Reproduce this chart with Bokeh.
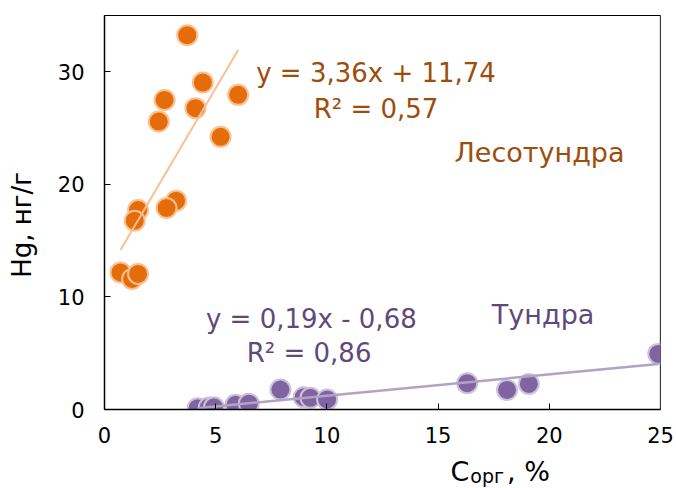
import numpy as np
from bokeh.plotting import figure
from bokeh.layouts import column
from bokeh.models import Range1d, FixedTicker, Label, Span
from bokeh.core.properties import value
from bokeh.embed import file_html
from bokeh.resources import INLINE

# Лесотундра (forest tundra)
forest_x = [3.72, 4.42, 2.70, 6.01, 4.09, 2.44, 5.22, 3.22, 2.79, 1.51, 1.36, 0.72, 1.24, 1.51]
forest_y = [33.25, 29.04, 27.5, 27.95, 26.77, 25.58, 24.22, 18.55, 17.9, 17.72, 16.77, 12.18, 11.6, 12.04]
forest_fit = [3.36, 11.74]  # slope, intercept

# Тундра (tundra)
tundra_x = [4.19, 4.69, 4.92, 5.89, 6.49, 7.91, 8.96, 9.26, 10.01, 16.31, 18.10, 19.08, 24.90]
tundra_y = [0.12, 0.18, 0.20, 0.42, 0.52, 1.77, 1.09, 1.04, 0.89, 2.34, 1.74, 2.27, 4.94]
tundra_fit = [0.19, -0.68]

x_ticks = [0, 5, 10, 15, 20, 25]
y_ticks = [0, 10, 20, 30]

FONT = "DejaVu Sans"
ORANGE_FILL = "#E46C0A"
ORANGE_EDGE = "#FAC090"
ORANGE_TEXT = "#9E4D0C"
PURPLE_FILL = "#8064A2"
PURPLE_EDGE = "#CCC1DA"
PURPLE_LINE = "#B3A2C7"
PURPLE_TEXT = "#60497A"

p = figure(width=676, height=454, output_backend="svg", toolbar_location=None,
           x_range=Range1d(0, 25), y_range=Range1d(0, 35),
           min_border_left=104, min_border_right=16, min_border_top=15, min_border_bottom=45)
p.xgrid.visible = False
p.ygrid.visible = False
p.outline_line_color = "#000000"
p.outline_line_width = 1
p.background_fill_color = "white"
p.border_fill_color = "white"

for ax in (p.xaxis[0], p.yaxis[0]):
    ax.axis_line_color = "black"
    ax.axis_line_width = 1.5
    ax.major_tick_in = 6
    ax.major_tick_out = 0
    ax.major_tick_line_color = "black"
    ax.minor_tick_line_color = None
    ax.major_label_text_font = FONT
    ax.major_label_text_font_size = "21px"
    ax.major_label_text_color = "black"
p.xaxis.ticker = FixedTicker(ticks=x_ticks)
p.yaxis.ticker = FixedTicker(ticks=y_ticks)
p.xaxis.major_label_standoff = 17
p.yaxis.major_label_standoff = 20
p.yaxis.axis_label = "Hg, нг/г\u00a0\u00a0\u00a0"
p.yaxis.axis_label_text_font = FONT
p.yaxis.axis_label_text_font_size = "26px"
p.yaxis.axis_label_text_font_style = "normal"
p.yaxis.axis_label_text_color = "black"
p.yaxis.axis_label_standoff = 18

p.add_layout(Span(location=25, dimension="height", line_color="#777777", line_width=1.5))

p.scatter(forest_x, forest_y, size=20, fill_color=ORANGE_FILL, line_color=ORANGE_EDGE, line_width=2)
p.scatter(tundra_x, tundra_y, size=20, fill_color=PURPLE_FILL, line_color=PURPLE_EDGE, line_width=2)

fx = np.array([min(forest_x), max(forest_x)])
p.line(fx, forest_fit[0] * fx + forest_fit[1], line_color=ORANGE_EDGE, line_width=2)
tx = np.array([min(tundra_x), max(tundra_x)])
p.line(tx, tundra_fit[0] * tx + tundra_fit[1], line_color=PURPLE_LINE, line_width=2.5)

def lab(x, y, text, color, size):
    p.add_layout(Label(x=x, y=y, text=text, text_font=FONT, text_font_size=size,
                       text_color=color, text_align="center", text_baseline="alphabetic"))

lab(12.21, 29.85, "y = 3,36x + 11,74", ORANGE_TEXT, "26px")
lab(12.21, 26.65, "R² = 0,57", ORANGE_TEXT, "26px")
lab(19.56, 22.80, "Лесотундра", ORANGE_TEXT, "27px")
lab(9.30, 8.05, "y = 0,19x - 0,68", PURPLE_TEXT, "26px")
lab(9.20, 5.05, "R² = 0,86", PURPLE_TEXT, "26px")
lab(19.72, 8.45, "Тундра", PURPLE_TEXT, "27px")

# x-axis title strip: "C" with subscript "орг", then ", %"
p2 = figure(width=676, height=34, output_backend="svg", toolbar_location=None,
            x_range=p.x_range, y_range=Range1d(0, 34),
            min_border_left=104, min_border_right=16, min_border_top=0, min_border_bottom=0)
p2.axis.visible = False
p2.grid.visible = False
p2.outline_line_color = None
p2.border_fill_color = "white"
p2.text(x=[15.56], y=[17], text=["C"], text_font=value(FONT), text_font_size="27px",
        text_color="black", text_align="left", text_baseline="alphabetic")
p2.text(x=[16.45], y=[12.5], text=["орг"], text_font=value(FONT), text_font_size="19px",
        text_color="black", text_align="left", text_baseline="alphabetic")
p2.text(x=[18.10], y=[17], text=[", %"], text_font=value(FONT), text_font_size="27px",
        text_color="black", text_align="left", text_baseline="alphabetic")

layout = column(p, p2, spacing=0)
open("out.html", "w").write(file_html(layout, INLINE))
